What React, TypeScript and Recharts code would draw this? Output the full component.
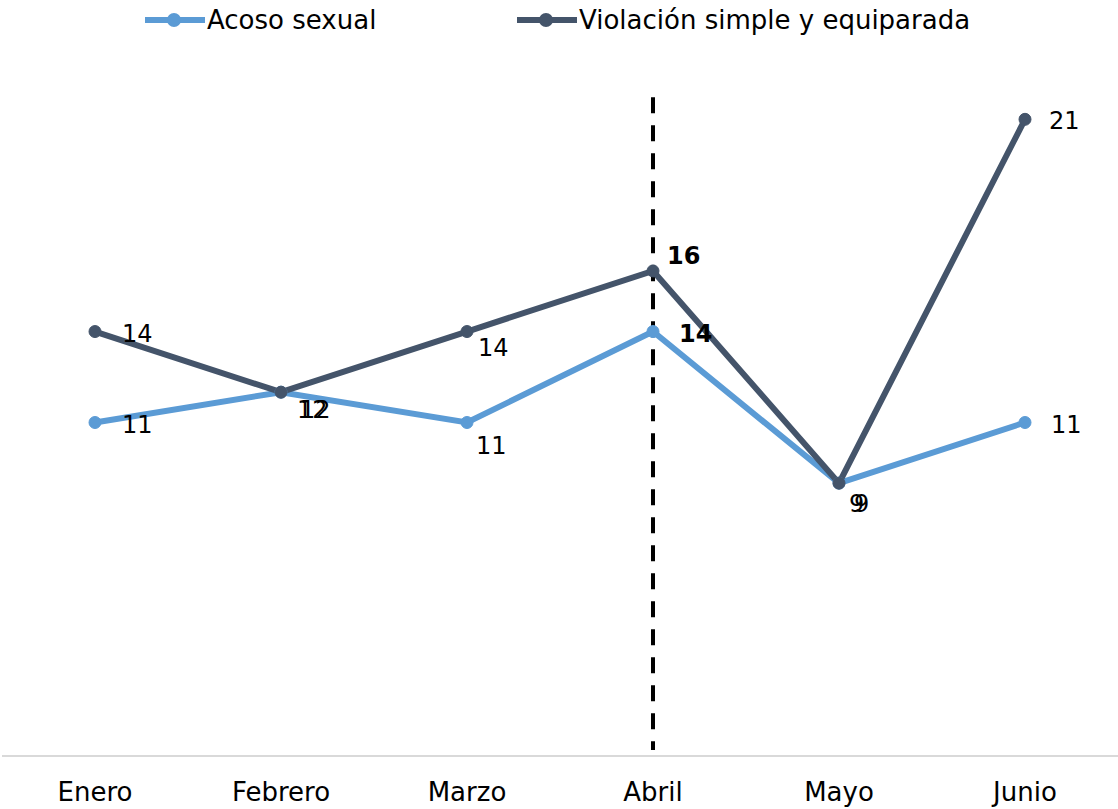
import { LineChart, Line, XAxis, YAxis, ReferenceLine, LabelList } from 'recharts';

const MONTHS = ['Enero', 'Febrero', 'Marzo', 'Abril', 'Mayo', 'Junio'];
const ACOSO = [11, 12, 11, 14, 9, 11];
const VIOLACION = [14, 12, 14, 16, 9, 21];

const SERIES = [
  { key: 'acoso', name: 'Acoso sexual', color: '#5b9bd5' },
  { key: 'violacion', name: 'Violación simple y equiparada', color: '#44546a' },
];

// label offsets (dx, dy from the point) per month, bold flag
const ACOSO_LABEL = [
  { dx: 27, dy: 2 },
  { dx: 16, dy: 18 },
  { dx: 9, dy: 23 },
  { dx: 26, dy: 2, bold: true },
  { dx: 10, dy: 21 },
  { dx: 26, dy: 2 },
];
const VIOLACION_LABEL = [
  { dx: 27, dy: 2 },
  { dx: 19, dy: 18 },
  { dx: 11, dy: 16 },
  { dx: 14, dy: -15, bold: true },
  { dx: 15, dy: 21 },
  { dx: 24, dy: 2 },
];

const FONT = '"DejaVu Sans", sans-serif';

const data = MONTHS.map((m, i) => ({ month: m, acoso: ACOSO[i], violacion: VIOLACION[i] }));

function makeLabel(place: { dx: number; dy: number; bold?: boolean }[]) {
  return (props: any) => {
    const { x, y, value, index } = props;
    const p = place[index];
    return (
      <text
        x={x + p.dx}
        y={y + p.dy}
        dominantBaseline="central"
        textAnchor="start"
        fontFamily={FONT}
        fontSize={24}
        fontWeight={p.bold ? 'bold' : 'normal'}
        fill="#000"
      >
        {value}
      </text>
    );
  };
}

function LegendBox() {
  return (
    <div style={{ position: 'absolute', left: 0, top: 1, width: 1118, height: 40, fontFamily: FONT, fontSize: 26, color: '#000' }}>
      {SERIES.map((s, i) => (
        <div
          key={s.key}
          style={{ display: 'flex', alignItems: 'center', position: 'absolute', left: i === 0 ? 145 : 517, top: 0 }}
        >
          <svg width={62} height={20}>
            <line x1={0} y1={10} x2={60} y2={10} stroke={s.color} strokeWidth={6} />
            <circle cx={29} cy={10} r={7} fill={s.color} />
          </svg>
          <span style={{ lineHeight: '38px' }}>{s.name}</span>
        </div>
      ))}
    </div>
  );
}

export default function App() {
  return (
    <div style={{ position: 'absolute', left: 0, top: 0, width: 1118, height: 809, background: '#fff' }}>
      <LineChart width={1118} height={809} data={data} margin={{ top: 89, right: 0, bottom: 0, left: 2 }}>
        <XAxis
          dataKey="month"
          height={53}
          padding={{ left: 93, right: 93 }}
          tickLine={false}
          axisLine={{ stroke: '#d9d9d9', strokeWidth: 2 }}
          tick={{ fill: '#000', fontSize: 26, fontFamily: FONT }}
          tickMargin={21}
          interval={0}
        />
        <YAxis hide width={0} domain={[0, 22]} />
        <ReferenceLine
          segment={[
            { x: 'Abril', y: 21.73 },
            { x: 'Abril', y: 0.2 },
          ]}
          stroke="#000"
          strokeWidth={4}
          strokeDasharray="16 12"
          ifOverflow="visible"
        />
        <Line
          dataKey="acoso"
          name="Acoso sexual"
          stroke="#5b9bd5"
          strokeWidth={6}
          dot={{ r: 6, fill: '#5b9bd5', stroke: '#5b9bd5', strokeWidth: 1 }}
          isAnimationActive={false}
        >
          <LabelList dataKey="acoso" content={makeLabel(ACOSO_LABEL)} />
        </Line>
        <Line
          dataKey="violacion"
          name="Violación simple y equiparada"
          stroke="#44546a"
          strokeWidth={6}
          dot={{ r: 6, fill: '#44546a', stroke: '#44546a', strokeWidth: 1 }}
          isAnimationActive={false}
        >
          <LabelList dataKey="violacion" content={makeLabel(VIOLACION_LABEL)} />
        </Line>
      </LineChart>
      <LegendBox />
    </div>
  );
}
